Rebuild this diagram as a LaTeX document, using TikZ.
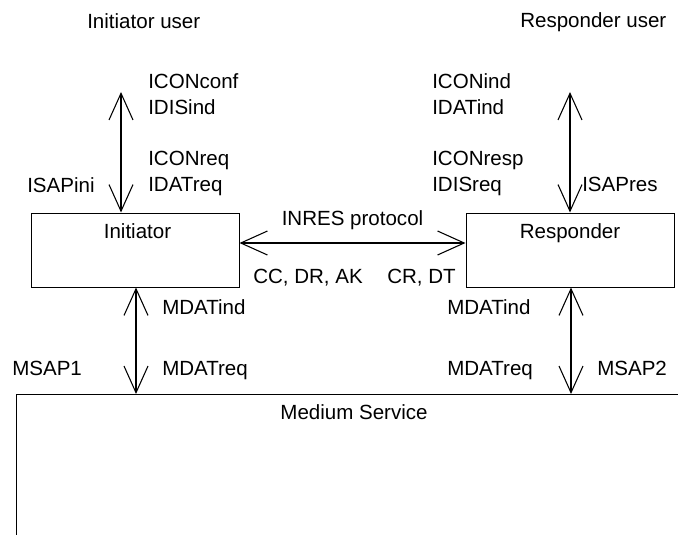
\documentclass[tikz,border=0pt]{standalone}
\usepackage{fontspec}
\setmainfont{Liberation Sans}
\usetikzlibrary{arrows.meta, positioning}

\begin{document}
\begin{tikzpicture}[x=0.75pt, y=-0.75pt,
entity/.style={draw, line width=0.75pt, minimum width=156pt, minimum height=55.5pt, inner sep=0pt},
biarrow/.style={line width=1.1pt, {Straight Barb[length=20pt,width=18pt,line width=0.8pt]}-{Straight Barb[length=20pt,width=18pt,line width=0.8pt]}},
lbl/.style={anchor=base west, inner sep=0pt}]
\tikzstyle{every node}=[font=\fontsize{15.4}{18}\selectfont]
\useasboundingbox (0,0) rectangle (678,535);

% users
\node[lbl] (iuser) at (87,29) {Initiator user};
\node[lbl] (ruser) at (520,28) {Responder user};

% protocol entities
\node[entity] (ini) at (135,250) {};
\node[entity] (res) at (570,250) {};
\node[anchor=base, inner sep=0pt] (initxt) at (137.5,238) {Initiator};
\node[anchor=base, inner sep=0pt] (restxt) at (570,238) {Responder};

% medium service
\coordinate (mcorner) at (16,394);
\coordinate (mleft) at (16,535);
\coordinate (mright) at (678,394);
\draw[line width=0.75pt] (mleft) -- (mcorner) -- (mright);
\node[anchor=base, inner sep=0pt] (medium) at (354,419) {Medium Service};

% service access points
\coordinate (isapi) at (121,92);
\coordinate (isapr) at (570,92);
\coordinate (msap1) at (136,394);
\coordinate (msap2) at (571,394);
\draw[biarrow] (isapi) -- (isapi |- ini.north);
\draw[biarrow] (isapr) -- (isapr |- res.north);
\draw[biarrow] (msap1 |- ini.south) -- (msap1);
\draw[biarrow] (msap2 |- res.south) -- (msap2);
\draw[biarrow] ([yshift=5.25pt]ini.east) -- ([yshift=5.25pt]res.west);

% primitives
\node[lbl] (iconconf) at (148,89) {ICONconf};
\node[lbl] (idisind) at (148,114) {IDISind};
\node[lbl] (iconreq) at (148,165) {ICONreq};
\node[lbl] (idatreq) at (148,191) {IDATreq};
\node[lbl] (isapini) at (27,192) {ISAPini};

\node[lbl] (iconind) at (432,89) {ICONind};
\node[lbl] (idatind) at (432,114) {IDATind};
\node[lbl] (iconresp) at (432,165) {ICONresp};
\node[lbl] (idisreq) at (432,191) {IDISreq};
\node[lbl] (isapres) at (582,191) {ISAPres};

\node[anchor=base, inner sep=0pt] (inres) at (352.5,225) {INRES protocol};
\node[lbl] (ccdrak) at (253,283) {CC, DR, AK};
\node[lbl] (crdt) at (387,283) {CR, DT};

\node[lbl] (mdatind1) at (162,314) {MDATind};
\node[lbl] (mdatreq1) at (162,375) {MDATreq};
\node[lbl] (msapone) at (12,375) {MSAP1};
\node[lbl] (mdatind2) at (447,314) {MDATind};
\node[lbl] (mdatreq2) at (447,375) {MDATreq};
\node[lbl] (msaptwo) at (597,375) {MSAP2};
\end{tikzpicture}
\end{document}
